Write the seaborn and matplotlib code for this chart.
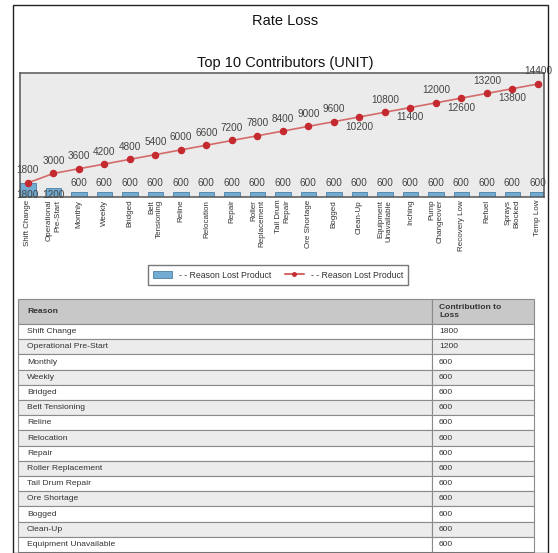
import numpy as np
import pandas as pd
import matplotlib
matplotlib.use('Agg')
import matplotlib.pyplot as plt
from matplotlib.patches import Patch, Rectangle
from matplotlib.lines import Line2D
import seaborn as sns

# data
reasons = ['Shift Change', 'Operational Pre-Start', 'Monthly', 'Weekly', 'Bridged',
           'Belt Tensioning', 'Reline', 'Relocation', 'Repair', 'Roller Replacement',
           'Tail Drum Repair', 'Ore Shortage', 'Bogged', 'Clean-Up', 'Equipment Unavailable',
           'Inching', 'Pump Changeover', 'Recovery Low', 'Refuel', 'Sprays Blocked', 'Temp Low']
tick_labels = ['Shift Change', 'Operational\nPre-Start', 'Monthly', 'Weekly', 'Bridged',
               'Belt\nTensioning', 'Reline', 'Relocation', 'Repair', 'Roller\nReplacement',
               'Tail Drum\nRepair', 'Ore Shortage', 'Bogged', 'Clean-Up', 'Equipment\nUnavailable',
               'Inching', 'Pump\nChangeover', 'Recovery Low', 'Refuel', 'Sprays\nBlocked', 'Temp Low']
loss = [1800, 1200, 600, 600, 600, 600, 600, 600, 600, 600, 600,
        600, 600, 600, 600, 600, 600, 600, 600, 600, 600]
table_header = ['Reason', 'Contribution to\nLoss']
table_rows = 15  # rows shown in the table below the chart

df = pd.DataFrame({'reason': reasons, 'loss': loss})
df['cumulative'] = np.cumsum(df['loss'])

sns.set_theme(style='white')
plt.rcParams['font.family'] = ['Liberation Sans', 'DejaVu Sans']

W, H = 558, 553
fig = plt.figure(figsize=(W / 100, H / 100), dpi=100)
fig.patch.set_facecolor('white')

# outer frame
fig.add_artist(Rectangle((13 / W, 0.5 / H), 535 / W, 1 - 5.5 / H, transform=fig.transFigure,
                         fill=False, edgecolor='#222222', lw=1))

fig.text(285 / W, 1 - 21 / H, 'Rate Loss', ha='center', va='center', fontsize=10.5, color='#111111')
fig.text(285 / W, 1 - 63 / H, 'Top 10 Contributors (UNIT)', ha='center', va='center',
         fontsize=10.5, color='#111111')

# main chart
ax = fig.add_axes([20 / W, 1 - 197 / H, 524 / W, 124 / H])
ax.set_facecolor('#ebebeb')

sns.barplot(data=df, x='reason', y='loss', ax=ax, color='#72acd3', width=0.6,
            edgecolor='#4a7fa5', linewidth=0.6, saturation=1)
sns.pointplot(data=df, x='reason', y='cumulative', ax=ax, color='#c42a30',
              markers='o', markersize=4.5, linewidth=1.2)
for ln in ax.lines:
    ln.set_color('#d46a6a')
    ln.set_markerfacecolor('#c42a30')
    ln.set_markeredgecolor('#c42a30')

ax.set_xlim(-0.31, len(reasons) - 1 + 0.24)
ax.set_ylim(0, 15800)
ax.set_xlabel('')
ax.set_ylabel('')
ax.set_yticks([])
ax.set_xticks(range(len(reasons)))
ax.set_xticklabels(tick_labels, rotation=90, fontsize=5.8, color='#333333',
                   multialignment='right')
ax.tick_params(axis='x', length=0, pad=2)
for s in ax.spines.values():
    s.set_color('#555555')
    s.set_linewidth(1.1)

lab_kw = dict(ha='center', va='center', fontsize=7.2, color='#444444', textcoords='offset points')

# cumulative labels, alternating above/below near the top
for i, c in enumerate(df['cumulative']):
    below = i >= 13 and (i - 13) % 2 == 0 and i < len(reasons) - 1
    ax.annotate(f'{c}', (i, c), xytext=(0, -7 if below else 9), **lab_kw)

# bar labels
for i, v in enumerate(df['loss']):
    off = 1.5 if v > 600 else 10
    ax.annotate(f'{v}', (i, 0), xytext=(0, off), **lab_kw)

# legend
handles = [Patch(facecolor='#72acd3', edgecolor='#4a7fa5', lw=0.6),
           Line2D([0], [0], color='#d46a6a', marker='o', markersize=2.5,
                  markerfacecolor='#c42a30', markeredgecolor='#c42a30', lw=1.5)]
fig.legend(handles, ['- - Reason Lost Product', '- - Reason Lost Product'], ncol=2,
           loc='center', bbox_to_anchor=(278 / W, 1 - 275 / H), fontsize=6.3,
           frameon=True, fancybox=False, edgecolor='#555555', handlelength=2.2,
           handleheight=0.9, columnspacing=1.5, borderpad=0.6, labelcolor='#333333')

# table, laid out in pixel units of its own axes
tw, col0, head_h, row_h = 516, 414, 25, 15.2
th = head_h + row_h * table_rows
ax_t = fig.add_axes([18 / W, 1 / H, tw / W, th / H])
ax_t.set_xlim(0, tw)
ax_t.set_ylim(th, 0)
ax_t.axis('off')

cell_kw = dict(edgecolor='#8a8a8a', lw=0.8, clip_on=False)
txt_kw = dict(va='center', ha='left', fontsize=6.1, color='#333333')
ax_t.add_patch(Rectangle((0, 0), col0, head_h, facecolor='#c8c8c8', **cell_kw))
ax_t.add_patch(Rectangle((col0, 0), tw - col0, head_h, facecolor='#c8c8c8', **cell_kw))
ax_t.text(9, head_h / 2, table_header[0], fontweight='bold', **txt_kw)
ax_t.text(col0 + 7, head_h / 2, table_header[1], fontweight='bold', linespacing=1.1, **txt_kw)
for k in range(table_rows):
    y0 = head_h + k * row_h
    fc = '#ffffff' if k % 2 == 0 else '#ececec'
    ax_t.add_patch(Rectangle((0, y0), col0, row_h, facecolor=fc, **cell_kw))
    ax_t.add_patch(Rectangle((col0, y0), tw - col0, row_h, facecolor=fc, **cell_kw))
    ax_t.text(9, y0 + row_h / 2, reasons[k], **txt_kw)
    ax_t.text(col0 + 7, y0 + row_h / 2, str(loss[k]), **txt_kw)

plt.savefig('out.png', dpi=100)
